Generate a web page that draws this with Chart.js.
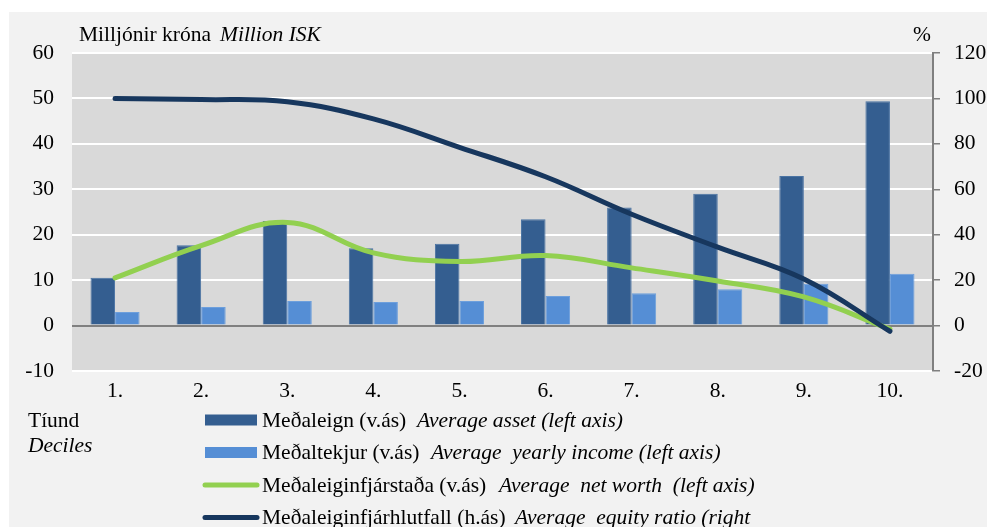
<!DOCTYPE html>
<html>
<head>
<meta charset="utf-8">
<script src="https://cdn.jsdelivr.net/npm/chart.js@4.4.1/dist/chart.umd.min.js"></script>
<style>
  html, body { margin: 0; padding: 0; background: #ffffff; }
  #wrap { position: relative; width: 987px; height: 527px; }
</style>
</head>
<body>
<div id="wrap"><canvas id="c" width="987" height="527"></canvas></div>
<script>
const categories = ['1.', '2.', '3.', '4.', '5.', '6.', '7.', '8.', '9.', '10.'];
const averageAsset = [10.5, 17.7, 23.0, 17.0, 18.0, 23.4, 26.0, 29.0, 32.9, 49.4];
const averageIncome = [3.0, 4.1, 5.4, 5.2, 5.4, 6.5, 7.1, 8.0, 9.2, 11.4];
const averageNetWorth = [10.5, 17.6, 22.7, 16.0, 14.1, 15.4, 12.7, 9.8, 6.3, -0.8];
const equityRatio = [100, 99.5, 98.5, 91, 78.5, 65.5, 49, 34.5, 20.5, -2.5];
const leftTicks = [-10, 0, 10, 20, 30, 40, 50, 60];
const rightTicks = [-20, 0, 20, 40, 60, 80, 100, 120];

const legendItems = [
  { type: 'box', color: '#345e90', is: 'Meðaleign (v.ás)', en: 'Average asset (left axis)', enX: 417 },
  { type: 'box', color: '#558ed5', is: 'Meðaltekjur (v.ás)', en: 'Average  yearly income (left axis)', enX: 431 },
  { type: 'line', color: '#92d050', is: 'Meðaleiginfjárstaða (v.ás)', en: 'Average  net worth  (left axis)', enX: 499 },
  { type: 'line', color: '#17375e', is: 'Meðaleiginfjárhlutfall (h.ás)', en: 'Average  equity ratio (right', enX: 515 }
];

const FONT = '"Liberation Serif", "Times New Roman", serif';
const FS = 21.5;

const decor = {
  id: 'decor',
  beforeDraw(chart) {
    const ctx = chart.ctx;
    const a = chart.chartArea;
    ctx.save();
    ctx.fillStyle = '#ffffff';
    ctx.fillRect(0, 0, chart.width, chart.height);
    ctx.fillStyle = '#f2f2f2';
    ctx.fillRect(9, 12, chart.width - 9, chart.height - 12);
    ctx.fillStyle = '#d9d9d9';
    ctx.fillRect(a.left, a.top, a.right - a.left, a.bottom - a.top);
    ctx.restore();
  },
  afterDraw(chart) {
    const ctx = chart.ctx;
    ctx.save();
    ctx.fillStyle = '#000000';
    ctx.textBaseline = 'middle';
    ctx.textAlign = 'left';
    ctx.font = FS + 'px ' + FONT;
    ctx.fillText('Milljónir króna', 79, 35);
    ctx.font = 'italic ' + FS + 'px ' + FONT;
    ctx.fillText('Million ISK', 220, 35);
    ctx.font = FS + 'px ' + FONT;
    ctx.fillText('%', 913, 35);
    ctx.fillText('Tíund', 28, 421);
    ctx.font = 'italic ' + FS + 'px ' + FONT;
    ctx.fillText('Deciles', 28, 446);

    legendItems.forEach((it, i) => {
      const y = 420 + i * 32.5;
      if (it.type === 'box') {
        ctx.fillStyle = it.color;
        ctx.fillRect(205, y - 5.5, 52, 11);
      } else {
        ctx.strokeStyle = it.color;
        ctx.lineWidth = 5;
        ctx.lineCap = 'round';
        ctx.beginPath();
        ctx.moveTo(205, y);
        ctx.lineTo(257, y);
        ctx.stroke();
      }
      ctx.fillStyle = '#000000';
      ctx.font = FS + 'px ' + FONT;
      ctx.fillText(it.is, 262, y + 1);
      ctx.font = 'italic ' + FS + 'px ' + FONT;
      ctx.fillText(it.en, it.enX, y + 1);
    });
    ctx.restore();
  }
};

new Chart(document.getElementById('c'), {
  type: 'bar',
  data: {
    labels: categories,
    datasets: [
      {
        type: 'line', label: 'Meðaleiginfjárhlutfall (h.ás)', data: equityRatio,
        yAxisID: 'y2', borderColor: '#17375e', backgroundColor: '#17375e',
        borderWidth: 5, pointRadius: 0, tension: 0.4, borderCapStyle: 'round', order: 0
      },
      {
        type: 'line', label: 'Meðaleiginfjárstaða (v.ás)', data: averageNetWorth,
        yAxisID: 'y', borderColor: '#92d050', backgroundColor: '#92d050',
        borderWidth: 5, pointRadius: 0, tension: 0.4, borderCapStyle: 'round', order: 1
      },
      {
        label: 'Meðaleign (v.ás)', data: averageAsset, yAxisID: 'y',
        backgroundColor: '#345e90', borderColor: '#4a73a3', borderWidth: 1,
        categoryPercentage: 0.57, barPercentage: 1.0, order: 2
      },
      {
        label: 'Meðaltekjur (v.ás)', data: averageIncome, yAxisID: 'y',
        backgroundColor: '#558ed5', borderColor: '#6d9fdc', borderWidth: 1,
        categoryPercentage: 0.57, barPercentage: 1.0, order: 3
      }
    ]
  },
  options: {
    responsive: false,
    animation: false,
    devicePixelRatio: 1,
    layout: { padding: { top: 53, left: 0, right: 0, bottom: 0 } },
    plugins: { legend: { display: false }, tooltip: { enabled: false } },
    scales: {
      x: {
        grid: { display: false, drawTicks: false },
        border: { display: false },
        ticks: { color: '#000000', font: { family: FONT, size: FS }, padding: 7 },
        afterFit(s) { s.height = 527 - 53 - 318; }
      },
      y: {
        position: 'left', min: -10, max: 60,
        afterBuildTicks(s) { s.ticks = leftTicks.map(v => ({ value: v })); },
        grid: {
          drawTicks: false,
          lineWidth: 2,
          color: c => (c.tick && c.tick.value === 0) ? '#808080' : '#ffffff'
        },
        border: { display: false },
        ticks: { color: '#000000', font: { family: FONT, size: FS }, padding: 18 },
        afterFit(s) { s.width = 72; }
      },
      y2: {
        position: 'right', min: -20, max: 120,
        afterBuildTicks(s) { s.ticks = rightTicks.map(v => ({ value: v })); },
        grid: { drawOnChartArea: false, drawTicks: true, tickLength: 7, color: '#808080', lineWidth: 1.5 },
        border: { display: true, color: '#808080', width: 2 },
        ticks: { color: '#000000', font: { family: FONT, size: FS }, padding: 14 },
        afterFit(s) { s.width = 987 - 933; }
      }
    }
  },
  plugins: [decor]
});
</script>
</body>
</html>
